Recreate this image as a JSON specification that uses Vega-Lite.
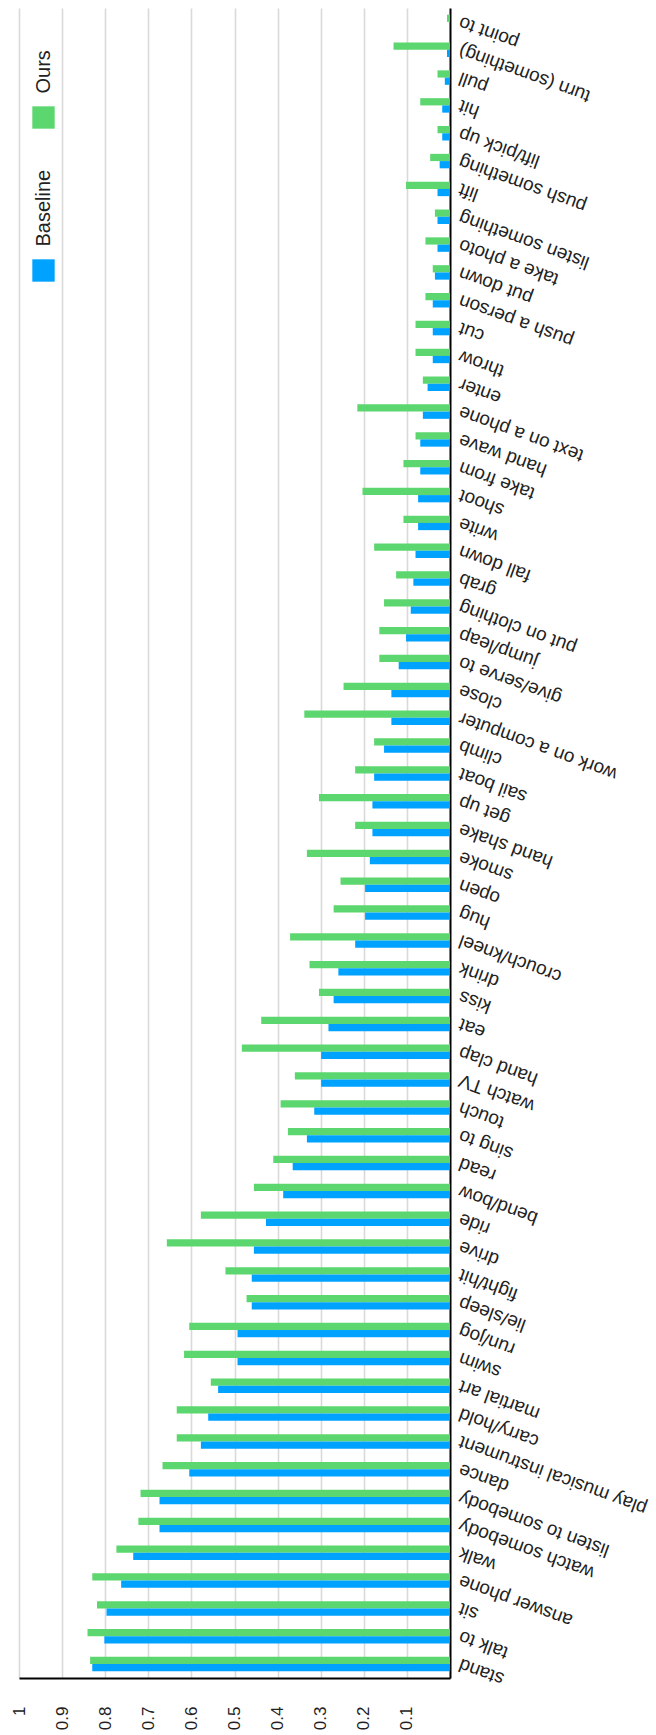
{
  "$schema": "https://vega.github.io/schema/vega-lite/v6.json",
  "width": 431,
  "height": 1670,
  "autosize": {"type": "none"},
  "padding": {"left": 19, "top": 8, "right": 206, "bottom": 57},
  "background": "white",
  "data": {
    "values": [
      {"action": "stand", "model": "Ours", "ap": 0.835}, {"action": "stand", "model": "Baseline", "ap": 0.830},
      {"action": "talk to", "model": "Ours", "ap": 0.841}, {"action": "talk to", "model": "Baseline", "ap": 0.802},
      {"action": "sit", "model": "Ours", "ap": 0.819}, {"action": "sit", "model": "Baseline", "ap": 0.797},
      {"action": "answer phone", "model": "Ours", "ap": 0.830}, {"action": "answer phone", "model": "Baseline", "ap": 0.763},
      {"action": "walk", "model": "Ours", "ap": 0.774}, {"action": "walk", "model": "Baseline", "ap": 0.735},
      {"action": "watch somebody", "model": "Ours", "ap": 0.723}, {"action": "watch somebody", "model": "Baseline", "ap": 0.674},
      {"action": "listen to somebody", "model": "Ours", "ap": 0.718}, {"action": "listen to somebody", "model": "Baseline", "ap": 0.674},
      {"action": "dance", "model": "Ours", "ap": 0.667}, {"action": "dance", "model": "Baseline", "ap": 0.605},
      {"action": "play musical instrument", "model": "Ours", "ap": 0.634}, {"action": "play musical instrument", "model": "Baseline", "ap": 0.578},
      {"action": "carry/hold", "model": "Ours", "ap": 0.634}, {"action": "carry/hold", "model": "Baseline", "ap": 0.561},
      {"action": "martial art", "model": "Ours", "ap": 0.555}, {"action": "martial art", "model": "Baseline", "ap": 0.538},
      {"action": "swim", "model": "Ours", "ap": 0.617}, {"action": "swim", "model": "Baseline", "ap": 0.493},
      {"action": "run/jog", "model": "Ours", "ap": 0.605}, {"action": "run/jog", "model": "Baseline", "ap": 0.493},
      {"action": "lie/sleep", "model": "Ours", "ap": 0.472}, {"action": "lie/sleep", "model": "Baseline", "ap": 0.460},
      {"action": "fight/hit", "model": "Ours", "ap": 0.521}, {"action": "fight/hit", "model": "Baseline", "ap": 0.460},
      {"action": "drive", "model": "Ours", "ap": 0.657}, {"action": "drive", "model": "Baseline", "ap": 0.455},
      {"action": "ride", "model": "Ours", "ap": 0.578}, {"action": "ride", "model": "Baseline", "ap": 0.427},
      {"action": "bend/bow", "model": "Ours", "ap": 0.455}, {"action": "bend/bow", "model": "Baseline", "ap": 0.387},
      {"action": "read", "model": "Ours", "ap": 0.410}, {"action": "read", "model": "Baseline", "ap": 0.365},
      {"action": "sing to", "model": "Ours", "ap": 0.376}, {"action": "sing to", "model": "Baseline", "ap": 0.332},
      {"action": "touch", "model": "Ours", "ap": 0.393}, {"action": "touch", "model": "Baseline", "ap": 0.315},
      {"action": "watch TV", "model": "Ours", "ap": 0.360}, {"action": "watch TV", "model": "Baseline", "ap": 0.299},
      {"action": "hand clap", "model": "Ours", "ap": 0.483}, {"action": "hand clap", "model": "Baseline", "ap": 0.299},
      {"action": "eat", "model": "Ours", "ap": 0.438}, {"action": "eat", "model": "Baseline", "ap": 0.282},
      {"action": "kiss", "model": "Ours", "ap": 0.304}, {"action": "kiss", "model": "Baseline", "ap": 0.270},
      {"action": "drink", "model": "Ours", "ap": 0.326}, {"action": "drink", "model": "Baseline", "ap": 0.259},
      {"action": "crouch/kneel", "model": "Ours", "ap": 0.371}, {"action": "crouch/kneel", "model": "Baseline", "ap": 0.220},
      {"action": "hug", "model": "Ours", "ap": 0.270}, {"action": "hug", "model": "Baseline", "ap": 0.197},
      {"action": "open", "model": "Ours", "ap": 0.254}, {"action": "open", "model": "Baseline", "ap": 0.197},
      {"action": "smoke", "model": "Ours", "ap": 0.332}, {"action": "smoke", "model": "Baseline", "ap": 0.186},
      {"action": "hand shake", "model": "Ours", "ap": 0.220}, {"action": "hand shake", "model": "Baseline", "ap": 0.180},
      {"action": "get up", "model": "Ours", "ap": 0.304}, {"action": "get up", "model": "Baseline", "ap": 0.180},
      {"action": "sail boat", "model": "Ours", "ap": 0.220}, {"action": "sail boat", "model": "Baseline", "ap": 0.176},
      {"action": "climb", "model": "Ours", "ap": 0.176}, {"action": "climb", "model": "Baseline", "ap": 0.153},
      {"action": "work on a computer", "model": "Ours", "ap": 0.338}, {"action": "work on a computer", "model": "Baseline", "ap": 0.136},
      {"action": "close", "model": "Ours", "ap": 0.247}, {"action": "close", "model": "Baseline", "ap": 0.136},
      {"action": "give/serve to", "model": "Ours", "ap": 0.164}, {"action": "give/serve to", "model": "Baseline", "ap": 0.119},
      {"action": "jump/leap", "model": "Ours", "ap": 0.164}, {"action": "jump/leap", "model": "Baseline", "ap": 0.102},
      {"action": "put on clothing", "model": "Ours", "ap": 0.153}, {"action": "put on clothing", "model": "Baseline", "ap": 0.091},
      {"action": "grab", "model": "Ours", "ap": 0.125}, {"action": "grab", "model": "Baseline", "ap": 0.085},
      {"action": "fall down", "model": "Ours", "ap": 0.176}, {"action": "fall down", "model": "Baseline", "ap": 0.080},
      {"action": "write", "model": "Ours", "ap": 0.108}, {"action": "write", "model": "Baseline", "ap": 0.074},
      {"action": "shoot", "model": "Ours", "ap": 0.203}, {"action": "shoot", "model": "Baseline", "ap": 0.074},
      {"action": "take from", "model": "Ours", "ap": 0.108}, {"action": "take from", "model": "Baseline", "ap": 0.069},
      {"action": "hand wave", "model": "Ours", "ap": 0.080}, {"action": "hand wave", "model": "Baseline", "ap": 0.069},
      {"action": "text on a phone", "model": "Ours", "ap": 0.215}, {"action": "text on a phone", "model": "Baseline", "ap": 0.063},
      {"action": "enter", "model": "Ours", "ap": 0.063}, {"action": "enter", "model": "Baseline", "ap": 0.052},
      {"action": "throw", "model": "Ours", "ap": 0.080}, {"action": "throw", "model": "Baseline", "ap": 0.040},
      {"action": "cut", "model": "Ours", "ap": 0.080}, {"action": "cut", "model": "Baseline", "ap": 0.040},
      {"action": "push a person", "model": "Ours", "ap": 0.057}, {"action": "push a person", "model": "Baseline", "ap": 0.040},
      {"action": "put down", "model": "Ours", "ap": 0.040}, {"action": "put down", "model": "Baseline", "ap": 0.035},
      {"action": "take a photo", "model": "Ours", "ap": 0.057}, {"action": "take a photo", "model": "Baseline", "ap": 0.029},
      {"action": "listen something", "model": "Ours", "ap": 0.035}, {"action": "listen something", "model": "Baseline", "ap": 0.029},
      {"action": "lift", "model": "Ours", "ap": 0.102}, {"action": "lift", "model": "Baseline", "ap": 0.029},
      {"action": "push something", "model": "Ours", "ap": 0.046}, {"action": "push something", "model": "Baseline", "ap": 0.024},
      {"action": "lift/pick up", "model": "Ours", "ap": 0.029}, {"action": "lift/pick up", "model": "Baseline", "ap": 0.018},
      {"action": "hit", "model": "Ours", "ap": 0.069}, {"action": "hit", "model": "Baseline", "ap": 0.018},
      {"action": "pull", "model": "Ours", "ap": 0.029}, {"action": "pull", "model": "Baseline", "ap": 0.012},
      {"action": "turn (something)", "model": "Ours", "ap": 0.131}, {"action": "turn (something)", "model": "Baseline", "ap": 0.007},
      {"action": "point to", "model": "Ours", "ap": 0.007}, {"action": "point to", "model": "Baseline", "ap": 0.001}
    ]
  },
  "mark": {"type": "bar"},
  "encoding": {
    "y": {
      "field": "action",
      "type": "nominal",
      "sort": null,
      "scale": {"reverse": true, "paddingInner": 0.48, "paddingOuter": 0.24},
      "axis": {
        "orient": "right",
        "title": null,
        "ticks": false,
        "grid": false,
        "domainColor": "#000000",
        "domainWidth": 2,
        "labelAngle": 200,
        "labelAlign": "right",
        "labelBaseline": "middle",
        "labelPadding": 9,
        "labelFont": "Liberation Sans",
        "labelFontSize": 19,
        "labelColor": "#222222",
        "labelLimit": 400,
        "labelOverlap": false
      }
    },
    "yOffset": {"field": "model", "type": "nominal", "scale": {"domain": ["Ours", "Baseline"]}},
    "x": {
      "field": "ap",
      "type": "quantitative",
      "scale": {"domain": [0, 1], "reverse": true, "nice": false},
      "axis": {
        "title": null,
        "values": [0.1, 0.2, 0.3, 0.4, 0.5, 0.6, 0.7, 0.8, 0.9, 1],
        "format": "~g",
        "ticks": false,
        "domainColor": "#000000",
        "domainWidth": 2,
        "gridColor": "#d9d9d9",
        "gridWidth": 1.6,
        "labelAngle": -90,
        "labelAlign": "right",
        "labelBaseline": "middle",
        "labelPadding": 28,
        "labelFont": "Liberation Sans",
        "labelFontSize": 17,
        "labelColor": "#222222",
        "labelFlush": false,
        "labelOverlap": false
      }
    },
    "color": {
      "field": "model",
      "type": "nominal",
      "scale": {"domain": ["Ours", "Baseline"], "range": ["#5cd66e", "#00a2ff"]},
      "legend": {
        "title": null,
        "orient": "none",
        "legendX": 13,
        "legendY": 98,
        "direction": "vertical",
        "symbolType": "square",
        "symbolSize": 500,
        "symbolStrokeWidth": 0,
        "labelFont": "Liberation Sans",
        "labelFontSize": 20,
        "labelColor": "#222222",
        "labelOffset": -11,
        "labelLimit": 300,
        "rowPadding": 40,
        "encode": {
          "labels": {
            "update": {
              "angle": {"value": -90},
              "align": {"value": "left"},
              "baseline": {"value": "middle"},
              "dx": {"value": 24}
            }
          }
        }
      }
    }
  },
  "config": {"view": {"stroke": null}}
}
